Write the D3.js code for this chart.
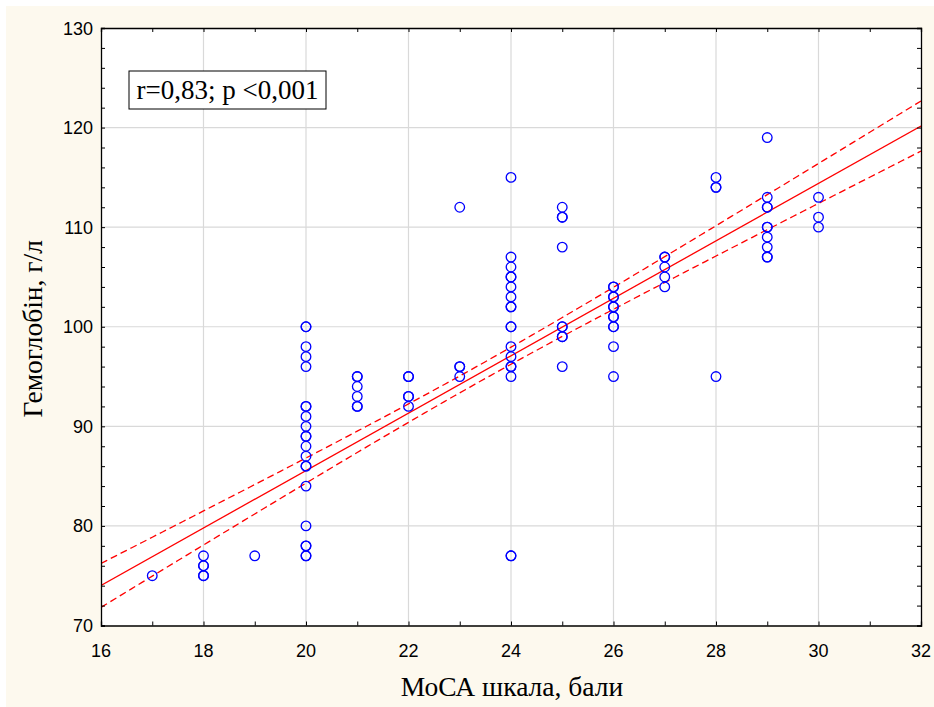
<!DOCTYPE html>
<html>
<head>
<meta charset="utf-8">
<script src="https://cdn.jsdelivr.net/npm/d3@7"></script>
<style>
  html, body { margin: 0; padding: 0; background: #ffffff; }
  svg { display: block; }
</style>
</head>
<body>
<svg id="chart" width="934" height="707"></svg>
<script>
// MoCA score (x) and haemoglobin level (y) for each patient
const mocaScores = [
  17,
  18, 18, 18, 18, 18,
  19,
  20, 20, 20, 20, 20, 20, 20, 20, 20, 20, 20, 20, 20, 20, 20, 20, 20, 20, 20, 20, 20,
  21, 21, 21, 21, 21, 21,
  22, 22, 22, 22, 22,
  23, 23, 23, 23,
  24, 24, 24, 24, 24, 24, 24, 24, 24, 24, 24, 24, 24, 24, 24, 24, 24, 24,
  25, 25, 25, 25, 25, 25, 25, 25, 25,
  26, 26, 26, 26, 26, 26, 26, 26, 26, 26, 26, 26,
  27, 27, 27, 27, 27,
  28, 28, 28, 28,
  29, 29, 29, 29, 29, 29, 29, 29, 29, 29,
  30, 30, 30
];
const hemoglobin = [
  75,
  77, 76, 76, 75, 75,
  77,
  100, 100, 98, 97, 96, 92, 92, 91, 90, 89, 89, 88, 87, 86, 86, 84, 80, 78, 78, 77, 77,
  95, 95, 94, 93, 92, 92,
  95, 95, 93, 93, 92,
  112, 96, 96, 95,
  115, 107, 106, 105, 105, 104, 103, 102, 102, 100, 100, 98, 97, 96, 96, 95, 77, 77,
  112, 111, 111, 108, 100, 100, 99, 99, 96,
  104, 104, 103, 103, 102, 102, 101, 101, 100, 100, 98, 95,
  107, 107, 106, 105, 104,
  115, 114, 114, 95,
  119, 113, 112, 112, 110, 110, 109, 108, 107, 107,
  113, 111, 110
];

// Axis ticks
const xTicks = [16, 18, 20, 22, 24, 26, 28, 30, 32];
const xMinorTicks = d3.range(16, 33, 1);
const yTicks = [70, 80, 90, 100, 110, 120, 130];
const yMinorTicks = d3.range(70, 131, 2);

// Fitted regression line and its 95% confidence band
const fitIntercept = 27.9;
const fitSlope = 2.883;
const bandCenterX = 23.4;   // x where the band is narrowest
const bandMinHalf = 0.84;   // half-width of the band at that point
const bandSpread = 0.076;   // growth of squared half-width with distance

const statsText = "r=0,83; p <0,001";
const xTitle = "МоСА шкала, бали";
const yTitle = "Гемоглобін, г/л";

const svg = d3.select("#chart");
const W = 934, H = 707;
const plot = { left: 101, right: 921, top: 28, bottom: 625.5 };

// cream page background
svg.append("rect").attr("x", 6).attr("y", 6).attr("width", W - 6).attr("height", H - 6)
  .attr("fill", "#fdf9ee");

svg.append("rect")
  .attr("x", plot.left).attr("y", plot.top)
  .attr("width", plot.right - plot.left).attr("height", plot.bottom - plot.top)
  .attr("fill", "#ffffff");

const x = d3.scaleLinear().domain([16, 32]).range([plot.left, plot.right]);
const y = d3.scaleLinear().domain([70, 130]).range([plot.bottom, plot.top]);

// grid
const grid = svg.append("g").attr("stroke", "#d9d9d9").attr("stroke-width", 1.2);
xTicks.slice(1, -1).forEach(v => {
  grid.append("line").attr("x1", x(v)).attr("x2", x(v)).attr("y1", plot.top).attr("y2", plot.bottom);
});
yTicks.slice(1, -1).forEach(v => {
  grid.append("line").attr("x1", plot.left).attr("x2", plot.right).attr("y1", y(v)).attr("y2", y(v));
});

// confidence band and fit line
const fit = v => fitIntercept + fitSlope * v;
const half = v => Math.sqrt(bandMinHalf * bandMinHalf + bandSpread * (v - bandCenterX) * (v - bandCenterX));
const xs = d3.range(16, 32.001, 0.1);
const line = d3.line().x(d => x(d[0])).y(d => y(d[1]));

svg.append("clipPath").attr("id", "plotClip").append("rect")
  .attr("x", plot.left).attr("y", plot.top)
  .attr("width", plot.right - plot.left).attr("height", plot.bottom - plot.top);

const fitG = svg.append("g").attr("clip-path", "url(#plotClip)")
  .attr("fill", "none").attr("stroke", "#ff0000").attr("stroke-width", 1.3);
fitG.append("path").attr("d", line(xs.map(v => [v, fit(v) + half(v)]))).attr("stroke-dasharray", "7,4");
fitG.append("path").attr("d", line(xs.map(v => [v, fit(v) - half(v)]))).attr("stroke-dasharray", "7,4");
fitG.append("path").attr("d", line([[16, fit(16)], [32, fit(32)]]));

// data points
svg.append("g").selectAll("circle")
  .data(mocaScores.map((m, i) => [m, hemoglobin[i]]))
  .join("circle")
  .attr("cx", d => x(d[0]))
  .attr("cy", d => y(d[1]))
  .attr("r", 4.8)
  .attr("fill", "none")
  .attr("stroke", "#0000ff")
  .attr("stroke-width", 1.3);

// axes frame with inward ticks
const axisFont = "'Liberation Sans', Arial, sans-serif";
const axB = d3.axisBottom(x).tickValues(xMinorTicks).tickSize(-4).tickFormat("");
const axT = d3.axisTop(x).tickValues(xMinorTicks).tickSize(-4).tickFormat("");
const axL = d3.axisLeft(y).tickValues(yMinorTicks).tickSize(-4).tickFormat("");
const axR = d3.axisRight(y).tickValues(yMinorTicks).tickSize(-4).tickFormat("");
[[axB, `translate(0,${plot.bottom})`], [axT, `translate(0,${plot.top})`],
 [axL, `translate(${plot.left},0)`], [axR, `translate(${plot.right},0)`]].forEach(([ax, tr]) => {
  const g = svg.append("g").attr("transform", tr).call(ax);
  g.select(".domain").attr("stroke", "#000").attr("stroke-width", 1.3);
  g.selectAll(".tick line").attr("stroke", "#000").attr("stroke-width", 1);
});

// tick labels
svg.append("g").selectAll("text").data(xTicks).join("text")
  .attr("x", d => x(d)).attr("y", plot.bottom + 31)
  .attr("text-anchor", "middle")
  .attr("font-family", axisFont).attr("font-size", 18).attr("fill", "#000")
  .text(d => d);
svg.append("g").selectAll("text").data(yTicks).join("text")
  .attr("x", plot.left - 8).attr("y", d => y(d) + 6.5)
  .attr("text-anchor", "end")
  .attr("font-family", axisFont).attr("font-size", 18).attr("fill", "#000")
  .text(d => d);

// axis titles
const serif = "'Liberation Serif', 'Times New Roman', serif";
svg.append("text")
  .attr("x", (plot.left + plot.right) / 2 + 1).attr("y", 696)
  .attr("text-anchor", "middle")
  .attr("font-family", serif).attr("font-size", 27.5).attr("fill", "#000")
  .text(xTitle);
svg.append("text")
  .attr("transform", `translate(42,${(plot.top + plot.bottom) / 2 + 2}) rotate(-90)`)
  .attr("text-anchor", "middle")
  .attr("font-family", serif).attr("font-size", 27.5).attr("fill", "#000")
  .text(yTitle);

// statistics label
const stat = svg.append("g");
stat.append("rect").attr("x", 129).attr("y", 71).attr("width", 197).attr("height", 38)
  .attr("fill", "#ffffff").attr("stroke", "#000").attr("stroke-width", 1);
stat.append("text").attr("x", 227.5).attr("y", 99)
  .attr("text-anchor", "middle")
  .attr("font-family", serif).attr("font-size", 27).attr("fill", "#000")
  .text(statsText);
</script>
</body>
</html>
